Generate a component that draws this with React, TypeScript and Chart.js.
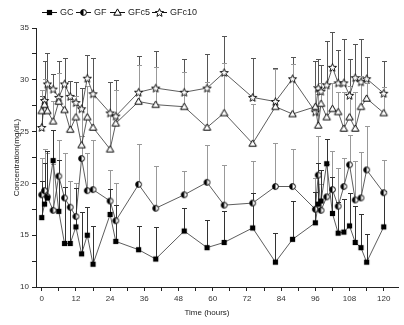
import React, { useEffect, useRef } from "react";
import { Chart, registerables } from "chart.js";
Chart.register(...registerables);

const times = [0, 1, 2, 4, 6, 8, 10, 12, 14, 16, 18, 24, 26, 34, 40, 50, 58, 64, 74, 82, 88, 96, 97, 98, 100, 102, 104, 106, 108, 110, 112, 114, 120];

const GC = [16.7, 18.0, 18.6, 22.2, 17.3, 14.2, 14.2, 15.8, 13.2, 15.0, 12.2, 17.0, 14.4, 13.6, 12.7, 15.4, 13.8, 14.3, 15.7, 12.4, 14.6, 16.2, 18.0, 18.3, 21.9, 17.1, 15.2, 15.3, 15.9, 14.3, 13.8, 12.4, 15.8];
const GF = [18.9, 19.3, 18.7, 17.4, 20.7, 18.6, 17.7, 16.8, 22.4, 19.3, 19.4, 18.3, 16.4, 19.9, 17.6, 18.9, 20.1, 17.9, 18.1, 19.7, 19.7, 17.5, 20.8, 17.4, 18.7, 19.4, 17.8, 19.7, 21.8, 18.4, 18.6, 21.3, 19.1];
const GFc5 = [27.0, 27.6, 27.0, 26.0, 27.9, 27.1, 25.2, 26.4, 23.7, 26.4, 25.4, 23.3, 25.8, 27.9, 27.6, 27.4, 25.4, 26.8, 23.85, 27.4, 26.7, 27.4, 25.6, 27.7, 26.4, 27.2, 26.9, 25.3, 26.4, 25.3, 27.4, 28.2, 26.8];
const GFc10 = [25.4, 28.0, 29.6, 29.1, 28.3, 29.6, 28.4, 27.8, 27.2, 30.15, 28.65, 26.8, 26.5, 28.8, 29.2, 28.8, 29.2, 30.7, 28.3, 27.9, 30.1, 26.9, 29.2, 28.9, 29.5, 31.2, 29.7, 29.7, 28.5, 30.2, 29.8, 30.1, 28.7];

const GC_err = [3.5, 4.0, 4.5, 3.0, 5.0, 5.5, 3.5, 3.8, 4.0, 2.7, 3.7, 2.5, 3.5, 2.3, 3.1, 2.2, 2.7, 3.0, 3.4, 2.8, 3.7, 3.0, 4.0, 3.0, 2.4, 3.5, 3.0, 3.2, 3.2, 3.5, 3.2, 2.7, 3.5];
const GF_err = [3.6, 4.0, 4.2, 4.5, 3.5, 4.3, 2.5, 3.2, 2.2, 3.6, 4.8, 3.0, 3.6, 3.9, 4.1, 2.3, 3.6, 3.9, 4.1, 4.2, 3.6, 3.0, 3.8, 2.5, 3.2, 3.7, 3.7, 2.8, 2.9, 3.8, 4.4, 4.2, 3.2];
const GFc5_err = [2.0, 2.5, 2.5, 2.0, 2.8, 2.5, 3.0, 2.0, 3.5, 3.0, 3.3, 3.5, 3.2, 3.5, 3.6, 3.4, 4.4, 4.8, 3.8, 3.6, 4.8, 2.0, 3.0, 2.0, 3.0, 2.5, 1.9, 3.5, 3.0, 3.5, 3.0, 1.5, 2.5];
const GFc10_err = [3.0, 3.8, 3.0, 1.5, 3.5, 2.5, 1.5, 2.0, 2.0, 2.2, 3.5, 3.0, 3.5, 3.5, 3.6, 3.2, 3.3, 3.5, 3.8, 3.2, 2.1, 4.9, 2.8, 2.5, 4.2, 3.4, 3.2, 4.2, 3.5, 3.3, 4.1, 2.1, 3.1];

const seriesNames = ["GC", "GF", "GFc5", "GFc10"];
const xTickValues = [0, 6, 12, 18, 24, 30, 36, 42, 48, 54, 60, 66, 72, 78, 84, 90, 96, 102, 108, 114, 120];
const yTickValues = [10, 12.5, 15, 17.5, 20, 22.5, 25, 27.5, 30, 32.5, 35];

function makeMarker(kind: string): HTMLCanvasElement {
  const s = 11;
  const c = document.createElement("canvas");
  c.width = s;
  c.height = s;
  const g = c.getContext("2d") as CanvasRenderingContext2D;
  const cx = s / 2, cy = s / 2;
  g.lineWidth = 1;
  g.strokeStyle = "#000";
  if (kind === "square") {
    g.fillStyle = "#000";
    g.fillRect(cx - 2.6, cy - 2.6, 5.2, 5.2);
  } else if (kind === "half") {
    const r = 2.9;
    g.fillStyle = "#fff";
    g.beginPath(); g.arc(cx, cy, r, 0, Math.PI * 2); g.fill();
    g.fillStyle = "#000";
    g.beginPath(); g.moveTo(cx, cy); g.arc(cx, cy, r, Math.PI / 2, (3 * Math.PI) / 2); g.closePath(); g.fill();
    g.beginPath(); g.arc(cx, cy, r, 0, Math.PI * 2); g.stroke();
  } else if (kind === "tri") {
    g.fillStyle = "#fff";
    g.beginPath();
    g.moveTo(cx, cy - 3.6);
    g.lineTo(cx + 3.7, cy + 2.7);
    g.lineTo(cx - 3.7, cy + 2.7);
    g.closePath();
    g.fill(); g.stroke();
  } else {
    const ro = 4.3, ri = 1.9;
    g.fillStyle = "#fff";
    g.lineWidth = 0.9;
    g.beginPath();
    for (let i = 0; i < 10; i++) {
      const r = i % 2 === 0 ? ro : ri;
      const a = -Math.PI / 2 + (i * Math.PI) / 5;
      const px = cx + r * Math.cos(a), py = cy + 0.4 + r * Math.sin(a);
      if (i === 0) g.moveTo(px, py); else g.lineTo(px, py);
    }
    g.closePath();
    g.fill(); g.stroke();
  }
  return c;
}

export default function App() {
  const ref = useRef<HTMLCanvasElement | null>(null);
  useEffect(() => {
    if (!ref.current) return;
    const markers = [makeMarker("square"), makeMarker("half"), makeMarker("tri"), makeMarker("star")];
    const values = [GC, GF, GFc5, GFc10];
    const errs = [GC_err, GF_err, GFc5_err, GFc10_err];
    const errColors = ["#333", "#999", "#999", "#555"];

    const errorBars = {
      id: "errorBars",
      beforeDatasetsDraw(chart: any) {
        const ctx = chart.ctx;
        const ys = chart.scales.y;
        ctx.save();
        ctx.lineWidth = 1;
        for (let i = values.length - 1; i >= 0; i--) {
          const meta = chart.getDatasetMeta(i);
          ctx.strokeStyle = errColors[i];
          meta.data.forEach((pt: any, j: number) => {
            const x = Math.round(pt.x) + 0.5;
            const y0 = pt.y;
            const y1 = Math.round(ys.getPixelForValue(values[i][j] + errs[i][j])) + 0.5;
            ctx.beginPath();
            ctx.moveTo(x, y0);
            ctx.lineTo(x, y1);
            ctx.moveTo(x - 2.5, y1);
            ctx.lineTo(x + 2.5, y1);
            ctx.stroke();
          });
        }
        ctx.restore();
      },
    };

    const decorations = {
      id: "decorations",
      afterDraw(chart: any) {
        const ctx = chart.ctx;
        const area = chart.chartArea;
        ctx.save();
        const legendX = [42, 76, 110, 152];
        const ly = 12;
        ctx.font = "9px Arial, 'Liberation Sans', sans-serif";
        ctx.textBaseline = "middle";
        ctx.fillStyle = "#222";
        for (let i = 0; i < 4; i++) {
          const x0 = legendX[i];
          ctx.strokeStyle = "#111";
          ctx.lineWidth = 1;
          ctx.beginPath();
          ctx.moveTo(x0, ly + 0.5);
          ctx.lineTo(x0 + 15, ly + 0.5);
          ctx.stroke();
          const m = markers[i];
          ctx.drawImage(m, Math.round(x0 + 7.5 - m.width / 2), Math.round(ly + 0.5 - m.height / 2));
          ctx.fillText(seriesNames[i], x0 + 18, ly + 1);
        }
        ctx.font = "8px Arial, 'Liberation Sans', sans-serif";
        ctx.textAlign = "center";
        ctx.fillStyle = "#222";
        ctx.fillText("Time (hours)", 207, 313);
        ctx.translate(17, (area.top + area.bottom) / 2);
        ctx.rotate(-Math.PI / 2);
        ctx.fillText("Concentration(mg/dL)", 0, 0);
        ctx.restore();
      },
    };

    const chart = new Chart(ref.current, {
      type: "line",
      data: {
        datasets: values.map((v, i) => ({
          label: seriesNames[i],
          data: times.map((t, j) => ({ x: t, y: v[j] })),
          borderColor: "#333",
          borderWidth: 0.8,
          pointStyle: markers[i] as any,
          pointRadius: 4,
          pointHoverRadius: 4,
          fill: false,
          tension: 0,
        })),
      },
      options: {
        responsive: false,
        animation: false,
        events: [],
        layout: { padding: { top: 28, right: 6, left: 0, bottom: 0 } },
        plugins: { legend: { display: false }, tooltip: { enabled: false }, title: { display: false } },
        scales: {
          x: {
            type: "linear",
            min: -2,
            max: 125,
            afterBuildTicks: (s: any) => { s.ticks = xTickValues.map((v) => ({ value: v })); },
            afterFit: (s: any) => { s.height = 38; },
            grid: { drawOnChartArea: false, drawTicks: true, tickLength: 4, color: "#222" },
            border: { display: true, color: "#222", width: 1 },
            ticks: {
              autoSkip: false,
              maxRotation: 0,
              padding: 3,
              color: "#333",
              font: { size: 8, family: "Arial, 'Liberation Sans', sans-serif" },
              callback: (v: any) => (Number(v) % 12 === 0 ? String(v) : ""),
            },
          },
          y: {
            type: "linear",
            min: 10,
            max: 35,
            afterBuildTicks: (s: any) => { s.ticks = yTickValues.map((v) => ({ value: v })); },
            afterFit: (s: any) => { s.width = 36; },
            grid: { drawOnChartArea: false, drawTicks: true, tickLength: 4, color: "#222" },
            border: { display: true, color: "#222", width: 1 },
            ticks: {
              autoSkip: false,
              padding: 3,
              color: "#333",
              font: { size: 8, family: "Arial, 'Liberation Sans', sans-serif" },
              callback: (v: any) => (Number(v) % 5 === 0 ? String(v) : ""),
            },
          },
        },
      },
      plugins: [errorBars, decorations],
    } as any);
    return () => chart.destroy();
  }, []);
  return (
    <div style={{ position: "fixed", left: 0, top: 0, width: 404, height: 325, background: "#fff" }}>
      <canvas ref={ref} width={404} height={325} style={{ display: "block" }} />
    </div>
  );
}
